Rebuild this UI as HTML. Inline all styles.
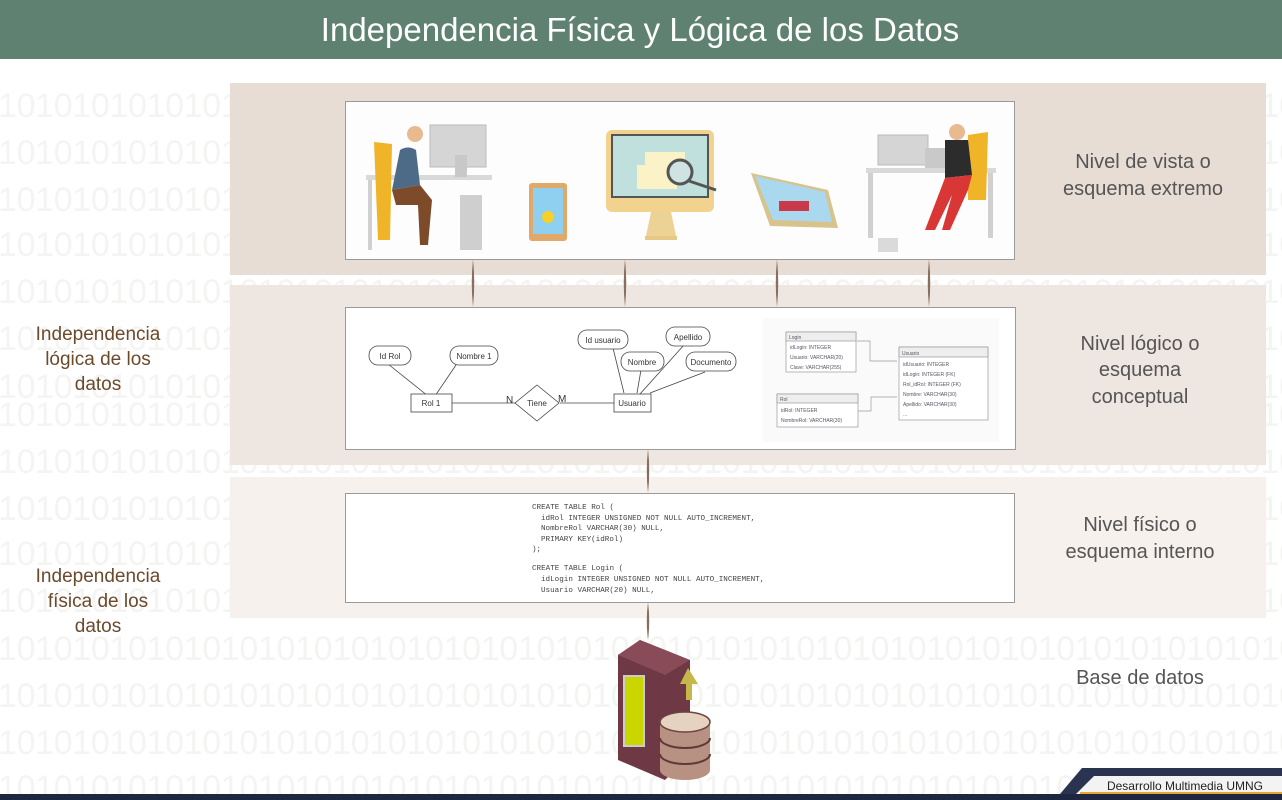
<!DOCTYPE html>
<html><head><meta charset="utf-8"><style>
html,body{margin:0;padding:0;background:#fff;}
svg{display:block;font-family:"Liberation Sans",sans-serif;}
.pre{white-space:pre;}
</style></head><body>
<svg width="1282" height="800" viewBox="0 0 1282 800" xmlns="http://www.w3.org/2000/svg">
<rect width="1282" height="800" fill="#fff"/>
<!-- binary bg -->
<g fill="#f4f4f3" font-size="34" font-family="Liberation Sans,sans-serif">
<text x="-2" y="117" textLength="1300">1010101010101010101010101010101010101010101010101010101010101010101010</text>
<text x="-2" y="164" textLength="1300">1010101010101010101010101010101010101010101010101010101010101010101010</text>
<text x="-2" y="211" textLength="1300">1010101010101010101010101010101010101010101010101010101010101010101010</text>
<text x="-2" y="256" textLength="1300">1010101010101010101010101010101010101010101010101010101010101010101010</text>
<text x="-2" y="303" textLength="1300">1010101010101010101010101010101010101010101010101010101010101010101010</text>
<text x="-2" y="350" textLength="1300">1010101010101010101010101010101010101010101010101010101010101010101010</text>
<text x="-2" y="398" textLength="1300">1010101010101010101010101010101010101010101010101010101010101010101010</text>
<text x="-2" y="426" textLength="1300">1010101010101010101010101010101010101010101010101010101010101010101010</text>
<text x="-2" y="473" textLength="1300">1010101010101010101010101010101010101010101010101010101010101010101010</text>
<text x="-2" y="520" textLength="1300">1010101010101010101010101010101010101010101010101010101010101010101010</text>
<text x="-2" y="565" textLength="1300">1010101010101010101010101010101010101010101010101010101010101010101010</text>
<text x="-2" y="612" textLength="1300">1010101010101010101010101010101010101010101010101010101010101010101010</text>
<text x="-2" y="660" textLength="1300">1010101010101010101010101010101010101010101010101010101010101010101010</text>
<text x="-2" y="707" textLength="1300">1010101010101010101010101010101010101010101010101010101010101010101010</text>
<text x="-2" y="754" textLength="1300">1010101010101010101010101010101010101010101010101010101010101010101010</text>
<text x="-2" y="799" textLength="1300">1010101010101010101010101010101010101010101010101010101010101010101010</text>
</g>
<!-- header -->
<rect x="0" y="0" width="1282" height="59" fill="#5f8172"/>
<text x="640" y="41" fill="#fff" font-size="33" text-anchor="middle">Independencia Física y Lógica de los Datos</text>
<!-- bands -->
<rect x="230" y="83" width="1036" height="192" fill="#e8ddd5"/>
<rect x="230" y="285" width="1036" height="180" fill="#ede5df" fill-opacity="0.95"/>
<rect x="230" y="477" width="1036" height="141" fill="#f5f0ec" fill-opacity="0.95"/>
<!-- white boxes -->
<rect x="345.5" y="101.5" width="669" height="158" fill="#fdfdfd" stroke="#9a9a9a"/>
<rect x="345.5" y="307.5" width="670" height="142" fill="#fff" stroke="#9a9a9a"/>
<rect x="345.5" y="493.5" width="669" height="109" fill="#fff" stroke="#9a9a9a"/>
<!-- connectors -->
<g fill="#8a6f5e">
<path d="M473 259 Q475.5 283 473 307 Q470.5 283 473 259Z"/>
<path d="M625 259 Q627.5 283 625 307 Q622.5 283 625 259Z"/>
<path d="M777 259 Q779.5 283 777 307 Q774.5 283 777 259Z"/>
<path d="M929 259 Q931.5 283 929 307 Q926.5 283 929 259Z"/>
<path d="M648 449 Q650.5 471 648 493 Q645.5 471 648 449Z"/>
<path d="M648 602 Q650.5 621 648 640 Q645.5 621 648 602Z"/>
</g>
<!-- illustrations row 1 -->
<g>
<rect x="366" y="175" width="126" height="5" fill="#d9d9d9"/>
<rect x="368" y="180" width="4" height="70" fill="#d0d0d0"/>
<rect x="460" y="195" width="22" height="55" fill="#cfcfcf"/>
<rect x="430" y="125" width="56" height="42" fill="#d5d5d5" stroke="#bbb"/>
<rect x="455" y="155" width="12" height="22" fill="#c8c8c8"/>
<path d="M374 142 L392 144 L390 240 L378 240Z" fill="#f0b429"/>
<path d="M400 150 Q408 145 416 150 L420 185 L392 190Z" fill="#4d6b86"/>
<circle cx="415" cy="134" r="8" fill="#e9b98f"/>
<path d="M392 190 L420 185 L432 200 L428 245 L420 245 L418 205 L396 205Z" fill="#7d4a2a"/>
<rect x="529" y="183" width="38" height="58" rx="3" fill="#e0a96a"/>
<rect x="533" y="188" width="30" height="46" fill="#8fd0f0"/>
<circle cx="548" cy="217" r="6" fill="#f7d02a"/>
<rect x="606" y="130" width="108" height="82" rx="6" fill="#f1d38f"/>
<rect x="612" y="135" width="96" height="62" fill="#bfe0dc" stroke="#555" stroke-width="2"/>
<rect x="637" y="165" width="40" height="24" fill="#fbf2c8"/>
<rect x="645" y="152" width="40" height="30" fill="#fbf2c8"/>
<circle cx="680" cy="172" r="12" fill="#cfe3e3" stroke="#555" stroke-width="3"/>
<line x1="689" y1="181" x2="716" y2="190" stroke="#555" stroke-width="3"/>
<path d="M651 212 L671 212 L676 236 L646 236Z" fill="#edd295"/>
<rect x="645" y="236" width="32" height="4" fill="#e6c987"/>
<path d="M751 173 L828 190 L838 228 L770 226Z" fill="#d8c38c"/>
<path d="M755 176 L825 192 L832 222 L773 220Z" fill="#a9d8ef"/>
<rect x="779" y="201" width="30" height="10" fill="#c9394a"/>
<rect x="866" y="168" width="130" height="5" fill="#d9d9d9"/>
<rect x="868" y="173" width="5" height="65" fill="#d0d0d0"/>
<rect x="988" y="173" width="5" height="65" fill="#d0d0d0"/>
<rect x="878" y="238" width="20" height="14" fill="#dadada"/>
<rect x="878" y="135" width="50" height="30" fill="#d5d5d5" stroke="#bbb"/>
<rect x="925" y="148" width="38" height="20" fill="#c9c9c9"/>
<path d="M968 135 L988 132 L986 200 L968 200Z" fill="#f0b429"/>
<circle cx="957" cy="132" r="8" fill="#e9b98f"/>
<path d="M945 140 L968 140 L972 175 L945 178Z" fill="#2c2c2c"/>
<path d="M945 178 L972 175 L968 190 L950 230 L942 230 L952 195 L935 230 L925 230Z" fill="#d93636"/>
</g>
<!-- ER diagram -->
<g font-size="9" fill="#333" stroke="#444" stroke-width="0.8">
<line x1="388" y1="364" x2="428" y2="396"/>
<line x1="456" y1="365" x2="435" y2="396"/>
<line x1="452" y1="403" x2="515" y2="403"/>
<line x1="560" y1="403" x2="614" y2="403"/>
<line x1="613" y1="348" x2="624" y2="393"/>
<line x1="641" y1="370" x2="637" y2="393"/>
<line x1="684" y1="345" x2="640" y2="394"/>
<line x1="705" y1="372" x2="650" y2="393"/>
<rect x="369" y="346" width="42" height="19" rx="9" fill="#fff"/>
<rect x="450" y="346" width="48" height="19" rx="9" fill="#fff"/>
<rect x="578" y="330" width="50" height="19" rx="9" fill="#fff"/>
<rect x="666" y="327" width="44" height="19" rx="9" fill="#fff"/>
<rect x="621" y="352" width="43" height="19" rx="9" fill="#fff"/>
<rect x="686" y="352" width="50" height="19" rx="9" fill="#fff"/>
<rect x="411" y="394" width="41" height="18" fill="#fff"/>
<rect x="614" y="394" width="37" height="18" fill="#fff"/>
<path d="M537 385 L559 403 L537 421 L515 403Z" fill="#fff"/>
<g stroke="none">
<text x="390" y="359" text-anchor="middle" font-size="8">Id Rol</text>
<text x="474" y="359" text-anchor="middle" font-size="8">Nombre 1</text>
<text x="603" y="343" text-anchor="middle" font-size="8">Id usuario</text>
<text x="688" y="340" text-anchor="middle" font-size="8">Apellido</text>
<text x="642" y="365" text-anchor="middle" font-size="8">Nombre</text>
<text x="711" y="365" text-anchor="middle" font-size="8">Documento</text>
<text x="431" y="406" text-anchor="middle" font-size="8">Rol 1</text>
<text x="632" y="406" text-anchor="middle" font-size="8">Usuario</text>
<text x="537" y="406" text-anchor="middle" font-size="8">Tiene</text>
<text x="506" y="403" font-size="10">N</text>
<text x="558" y="402" font-size="10">M</text>
</g>
</g>
<!-- table diagram -->
<rect x="763" y="318" width="236" height="124" fill="#fafafa"/>
<g font-size="5" fill="#556" stroke="#999" stroke-width="0.7">
<path d="M857 341 H870 V361 H897" fill="none"/>
<path d="M858 411 H871 V397 H897" fill="none"/>
<rect x="786" y="332" width="70" height="40" fill="#fff"/>
<rect x="786" y="332" width="70" height="9" fill="#eee"/>
<rect x="777" y="394" width="81" height="33" fill="#fff"/>
<rect x="777" y="394" width="81" height="9" fill="#eee"/>
<rect x="899" y="347" width="89" height="73" fill="#fff"/>
<rect x="899" y="347" width="89" height="10" fill="#eee"/>
<g stroke="none">
<text x="789" y="339">Login</text><text x="790" y="349">idLogin: INTEGER</text><text x="790" y="359">Usuario: VARCHAR(20)</text><text x="790" y="369">Clave: VARCHAR(255)</text>
<text x="780" y="401">Rol</text><text x="781" y="412">idRol: INTEGER</text><text x="781" y="422">NombreRol: VARCHAR(30)</text>
<text x="902" y="355">Usuario</text><text x="903" y="366">idUsuario: INTEGER</text><text x="903" y="376">idLogin: INTEGER (FK)</text><text x="903" y="386">Rol_idRol: INTEGER (FK)</text><text x="903" y="396">Nombre: VARCHAR(30)</text><text x="903" y="406">Apellido: VARCHAR(30)</text><text x="903" y="416">...</text>
</g>
</g>
<!-- SQL -->
<g font-family="Liberation Mono,monospace" font-size="7.6" fill="#444">
<text x="532" y="509">CREATE TABLE Rol (</text>
<text x="541" y="520">idRol INTEGER UNSIGNED NOT NULL AUTO_INCREMENT,</text>
<text x="541" y="530">NombreRol VARCHAR(30) NULL,</text>
<text x="541" y="541">PRIMARY KEY(idRol)</text>
<text x="532" y="551">);</text>
<text x="532" y="570">CREATE TABLE Login (</text>
<text x="541" y="581">idLogin INTEGER UNSIGNED NOT NULL AUTO_INCREMENT,</text>
<text x="541" y="592">Usuario VARCHAR(20) NULL,</text>
</g>
<!-- database illustration -->
<g>
<path d="M618 655 L640 640 L690 660 L690 755 L665 780 L618 760Z" fill="#6e3845"/>
<path d="M618 655 L640 640 L690 660 L665 675Z" fill="#8a4b58"/>
<rect x="624" y="676" width="20" height="70" fill="#c9d600" stroke="#ccc" stroke-width="2"/>
<path d="M688 668 L698 684 L692 684 L692 700 L686 700 L686 684 L680 684Z" fill="#c7b64a"/>
<path d="M660 722 V770 A25 10 0 0 0 710 770 V722Z" fill="#b99182"/>
<path d="M660 738 A25 10 0 0 0 710 738 M660 754 A25 10 0 0 0 710 754" stroke="#5c3a3a" stroke-width="2" fill="none"/>
<ellipse cx="685" cy="722" rx="25" ry="10" fill="#e6d3bf" stroke="#6b4444" stroke-width="1.5"/>
</g>
<!-- left labels -->
<g fill="#6b4a2c" font-size="19" text-anchor="middle">
<text x="98" y="340">Independencia</text>
<text x="98" y="365">lógica de los</text>
<text x="98" y="390">datos</text>
<text x="98" y="582">Independencia</text>
<text x="98" y="607">física de los</text>
<text x="98" y="632">datos</text>
</g>
<!-- right labels -->
<g fill="#555" font-size="20" text-anchor="middle">
<text x="1143" y="168">Nivel de vista o</text>
<text x="1143" y="195">esquema extremo</text>
<text x="1140" y="350">Nivel lógico o</text>
<text x="1140" y="376">esquema</text>
<text x="1140" y="403">conceptual</text>
<text x="1140" y="531">Nivel físico o</text>
<text x="1140" y="558">esquema interno</text>
<text x="1140" y="684">Base de datos</text>
</g>
<!-- footer -->
<path d="M1060 794 L1082 768 L1282 768 L1282 794Z" fill="#2a3450"/>
<path d="M1076 794 L1094 776 L1282 776 L1282 794Z" fill="#f3f3f3"/>
<rect x="1080" y="792" width="202" height="2" fill="#e8a531"/>
<text x="1185" y="790" fill="#222" font-size="12" text-anchor="middle">Desarrollo Multimedia UMNG</text>
<rect x="0" y="794" width="1282" height="6" fill="#1f2640"/>
</svg>
</body></html>
